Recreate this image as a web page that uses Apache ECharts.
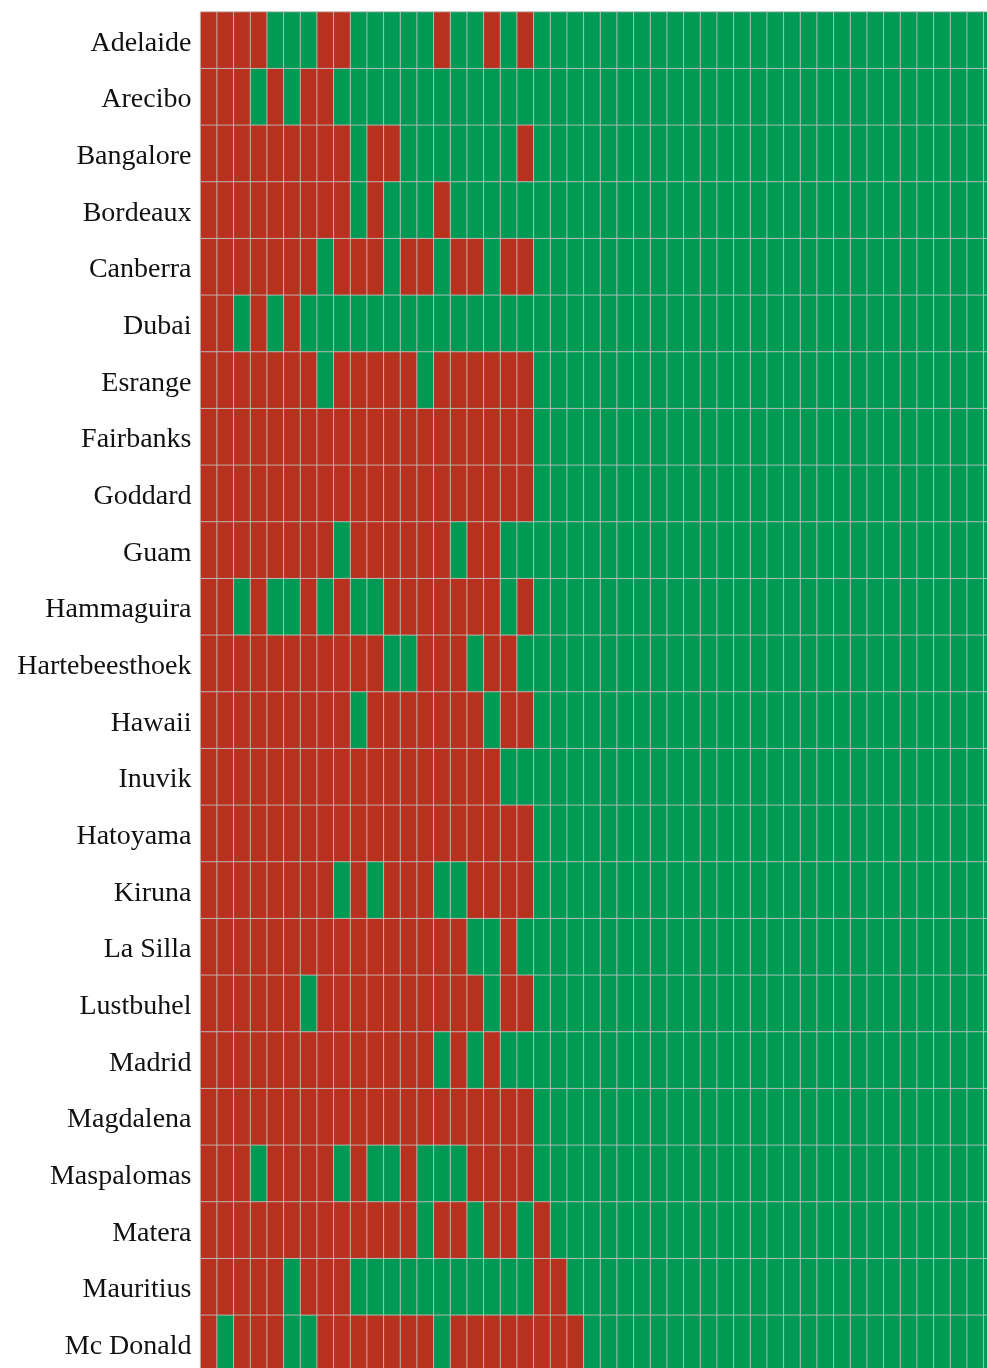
<!DOCTYPE html>
<html>
<head>
<meta charset="utf-8">
<title>Station status grid</title>
<script src="https://cdn.jsdelivr.net/npm/echarts@6/dist/echarts.min.js"></script>
<style>
  html, body { margin: 0; padding: 0; background: #ffffff; }
  #chart { width: 987px; height: 1368px; }
</style>
</head>
<body>
<div id="chart"></div>
<script>
// Ground stations, top to bottom
const stations = [
  'Adelaide', 'Arecibo', 'Bangalore', 'Bordeaux', 'Canberra', 'Dubai',
  'Esrange', 'Fairbanks', 'Goddard', 'Guam', 'Hammaguira', 'Hartebeesthoek',
  'Hawaii', 'Inuvik', 'Hatoyama', 'Kiruna', 'La Silla', 'Lustbuhel',
  'Madrid', 'Magdalena', 'Maspalomas', 'Matera', 'Mauritius', 'Mc Donald'
];

// Time slots along the horizontal axis
const slots = [
  '1','2','3','4','5','6','7','8','9','10','11','12','13','14','15','16',
  '17','18','19','20','21','22','23','24','25','26','27','28','29','30','31','32',
  '33','34','35','36','37','38','39','40','41','42','43','44','45','46','47','48'
];

// Status per station and slot: 1 = down, 0 = up
const adelaide       = [1,1,1,1,0,0,0,1,1,0,0,0,0,0,1,0,0,1,0,1,0,0,0,0, 0,0,0,0,0,0,0,0,0,0,0,0,0,0,0,0,0,0,0,0,0,0,0,0];
const arecibo        = [1,1,1,0,1,0,1,1,0,0,0,0,0,0,0,0,0,0,0,0,0,0,0,0, 0,0,0,0,0,0,0,0,0,0,0,0,0,0,0,0,0,0,0,0,0,0,0,0];
const bangalore      = [1,1,1,1,1,1,1,1,1,0,1,1,0,0,0,0,0,0,0,1,0,0,0,0, 0,0,0,0,0,0,0,0,0,0,0,0,0,0,0,0,0,0,0,0,0,0,0,0];
const bordeaux       = [1,1,1,1,1,1,1,1,1,0,1,0,0,0,1,0,0,0,0,0,0,0,0,0, 0,0,0,0,0,0,0,0,0,0,0,0,0,0,0,0,0,0,0,0,0,0,0,0];
const canberra       = [1,1,1,1,1,1,1,0,1,1,1,0,1,1,0,1,1,0,1,1,0,0,0,0, 0,0,0,0,0,0,0,0,0,0,0,0,0,0,0,0,0,0,0,0,0,0,0,0];
const dubai          = [1,1,0,1,0,1,0,0,0,0,0,0,0,0,0,0,0,0,0,0,0,0,0,0, 0,0,0,0,0,0,0,0,0,0,0,0,0,0,0,0,0,0,0,0,0,0,0,0];
const esrange        = [1,1,1,1,1,1,1,0,1,1,1,1,1,0,1,1,1,1,1,1,0,0,0,0, 0,0,0,0,0,0,0,0,0,0,0,0,0,0,0,0,0,0,0,0,0,0,0,0];
const fairbanks      = [1,1,1,1,1,1,1,1,1,1,1,1,1,1,1,1,1,1,1,1,0,0,0,0, 0,0,0,0,0,0,0,0,0,0,0,0,0,0,0,0,0,0,0,0,0,0,0,0];
const goddard        = [1,1,1,1,1,1,1,1,1,1,1,1,1,1,1,1,1,1,1,1,0,0,0,0, 0,0,0,0,0,0,0,0,0,0,0,0,0,0,0,0,0,0,0,0,0,0,0,0];
const guam           = [1,1,1,1,1,1,1,1,0,1,1,1,1,1,1,0,1,1,0,0,0,0,0,0, 0,0,0,0,0,0,0,0,0,0,0,0,0,0,0,0,0,0,0,0,0,0,0,0];
const hammaguira     = [1,1,0,1,0,0,1,0,1,0,0,1,1,1,1,1,1,1,0,1,0,0,0,0, 0,0,0,0,0,0,0,0,0,0,0,0,0,0,0,0,0,0,0,0,0,0,0,0];
const hartebeesthoek = [1,1,1,1,1,1,1,1,1,1,1,0,0,1,1,1,0,1,1,0,0,0,0,0, 0,0,0,0,0,0,0,0,0,0,0,0,0,0,0,0,0,0,0,0,0,0,0,0];
const hawaii         = [1,1,1,1,1,1,1,1,1,0,1,1,1,1,1,1,1,0,1,1,0,0,0,0, 0,0,0,0,0,0,0,0,0,0,0,0,0,0,0,0,0,0,0,0,0,0,0,0];
const inuvik         = [1,1,1,1,1,1,1,1,1,1,1,1,1,1,1,1,1,1,0,0,0,0,0,0, 0,0,0,0,0,0,0,0,0,0,0,0,0,0,0,0,0,0,0,0,0,0,0,0];
const hatoyama       = [1,1,1,1,1,1,1,1,1,1,1,1,1,1,1,1,1,1,1,1,0,0,0,0, 0,0,0,0,0,0,0,0,0,0,0,0,0,0,0,0,0,0,0,0,0,0,0,0];
const kiruna         = [1,1,1,1,1,1,1,1,0,1,0,1,1,1,0,0,1,1,1,1,0,0,0,0, 0,0,0,0,0,0,0,0,0,0,0,0,0,0,0,0,0,0,0,0,0,0,0,0];
const laSilla        = [1,1,1,1,1,1,1,1,1,1,1,1,1,1,1,1,0,0,1,0,0,0,0,0, 0,0,0,0,0,0,0,0,0,0,0,0,0,0,0,0,0,0,0,0,0,0,0,0];
const lustbuhel      = [1,1,1,1,1,1,0,1,1,1,1,1,1,1,1,1,1,0,1,1,0,0,0,0, 0,0,0,0,0,0,0,0,0,0,0,0,0,0,0,0,0,0,0,0,0,0,0,0];
const madrid         = [1,1,1,1,1,1,1,1,1,1,1,1,1,1,0,1,0,1,0,0,0,0,0,0, 0,0,0,0,0,0,0,0,0,0,0,0,0,0,0,0,0,0,0,0,0,0,0,0];
const magdalena      = [1,1,1,1,1,1,1,1,1,1,1,1,1,1,1,1,1,1,1,1,0,0,0,0, 0,0,0,0,0,0,0,0,0,0,0,0,0,0,0,0,0,0,0,0,0,0,0,0];
const maspalomas     = [1,1,1,0,1,1,1,1,0,1,0,0,1,0,0,0,1,1,1,1,0,0,0,0, 0,0,0,0,0,0,0,0,0,0,0,0,0,0,0,0,0,0,0,0,0,0,0,0];
const matera         = [1,1,1,1,1,1,1,1,1,1,1,1,1,0,1,1,0,1,1,0,1,0,0,0, 0,0,0,0,0,0,0,0,0,0,0,0,0,0,0,0,0,0,0,0,0,0,0,0];
const mauritius      = [1,1,1,1,1,0,1,1,1,0,0,0,0,0,0,0,0,0,0,0,1,1,0,0, 0,0,0,0,0,0,0,0,0,0,0,0,0,0,0,0,0,0,0,0,0,0,0,0];
const mcDonald       = [1,0,1,1,1,0,0,1,1,1,1,1,1,1,0,1,1,1,1,1,1,1,1,0, 0,0,0,0,0,0,0,0,0,0,0,0,0,0,0,0,0,0,0,0,0,0,0,0];

const statusByStation = [
  adelaide, arecibo, bangalore, bordeaux, canberra, dubai,
  esrange, fairbanks, goddard, guam, hammaguira, hartebeesthoek,
  hawaii, inuvik, hatoyama, kiruna, laSilla, lustbuhel,
  madrid, magdalena, maspalomas, matera, mauritius, mcDonald
];

const COLOR_DOWN = '#b7311e';
const COLOR_UP = '#009a55';

// Flatten into [slot, station, status] triples for the heatmap
const cells = [];
statusByStation.forEach((row, y) => {
  row.forEach((v, x) => cells.push([x, y, v]));
});

const CELL_W = 50 / 3;
const CELL_H = 170 / 3;

const chart = echarts.init(document.getElementById('chart'), null, { renderer: 'canvas' });

chart.setOption({
  backgroundColor: '#ffffff',
  animation: false,
  grid: {
    left: 200.5,
    top: 12,
    width: CELL_W * slots.length,
    height: CELL_H * stations.length,
    outerBoundsMode: 'none',
    containLabel: false
  },
  xAxis: {
    type: 'category',
    data: slots,
    show: false
  },
  yAxis: {
    type: 'category',
    data: stations,
    inverse: true,
    axisLine: { show: false },
    axisTick: { show: false },
    splitLine: { show: false },
    axisLabel: {
      margin: 9,
      formatter: '{name|{value}}',
      rich: {
        name: {
          color: '#111111',
          fontFamily: 'Liberation Serif',
          fontSize: 28,
          padding: [6, 0, 0, 0]
        }
      }
    }
  },
  visualMap: {
    type: 'piecewise',
    show: false,
    dimension: 2,
    pieces: [
      { value: 0, color: COLOR_UP },
      { value: 1, color: COLOR_DOWN }
    ]
  },
  series: [{
    type: 'heatmap',
    data: cells,
    itemStyle: {
      borderColor: 'rgba(195,195,195,0.85)',
      borderWidth: 1
    },
    emphasis: { disabled: true }
  }]
});
</script>
</body>
</html>
